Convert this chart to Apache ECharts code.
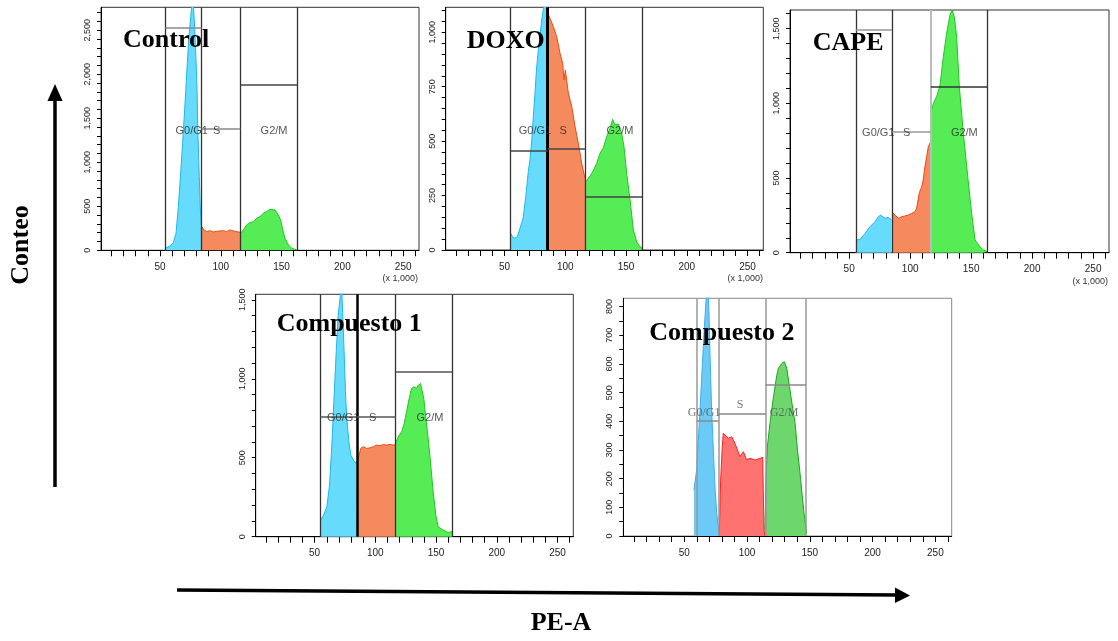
<!DOCTYPE html>
<html>
<head>
<meta charset="utf-8">
<script src="https://cdn.jsdelivr.net/npm/echarts@6/dist/echarts.min.js"></script>
<style>
html, body { margin: 0; padding: 0; background: #fff; }
#container { width: 1118px; height: 641px; }
</style>
</head>
<body>
<div id="container"></div>
<script>
// PE-A axis, in thousands
var xTicks = [10, 20, 30, 40, 50, 60, 70, 80, 90, 100, 110, 120, 130, 140, 150, 160, 170, 180, 190, 200, 210, 220, 230, 240, 250, 260];
var xLabels = [50, 100, 150, 200, 250];
var phaseNames = ['G0/G1', 'S', 'G2/M'];

// Control
var ctrlYLabels = [0, 500, 1000, 1500, 2000, 2500];
var ctrlG1 = [[54.4, 23], [58.2, 49], [61.0, 87], [63.2, 193], [65.1, 496], [67.0, 875], [68.6, 1216], [70.3, 1595], [72.0, 2011], [73.6, 2390], [75.3, 2655], [76.9, 2900], [78.2, 2618], [79.3, 2277], [80.4, 1860], [81.2, 1330], [82.3, 837], [83.1, 496], [84.3, 231]];
var ctrlS = [[84.4, 269], [86.2, 231], [88.4, 212], [91.1, 223], [93.8, 208], [96.7, 216], [99.4, 220], [102.1, 223], [104.8, 212], [107.6, 231], [110.3, 220], [113.1, 212], [115.8, 205]];
var ctrlG2 = [[116.3, 193], [118.5, 231], [121.3, 288], [124.0, 314], [126.8, 326], [129.6, 364], [132.3, 383], [135.0, 420], [137.7, 439], [140.4, 466], [141.8, 477], [144.6, 458], [147.3, 402], [149.2, 345], [151.0, 231], [152.8, 136], [155.6, 61], [158.3, 23], [162.4, 4]];
var ctrlGates = [54.4, 84.3, 116.0, 162.9];
var ctrlGateLevels = [2528, 1378, 1877];
var ctrlLabelPos = [[76.1, 1358], [96.6, 1358], [143.8, 1358]];

// DOXO
var doxoYLabels = [0, 250, 500, 750, 1000];
var doxoG1 = [[55.3, 75], [56.5, 60], [58.6, 54], [60.5, 62], [62.7, 100], [65.4, 150], [67.6, 255], [69.5, 360], [71.0, 420], [72.3, 500], [73.6, 610], [75.0, 720], [76.4, 840], [77.8, 920], [79.1, 980], [80.5, 1055], [82.0, 1110], [82.8, 1200], [85.5, 1200]];
var doxoS = [[85.6, 1090], [87.4, 1064], [90.1, 1026], [92.9, 980], [95.6, 904], [97.8, 858], [98.9, 781], [100.0, 827], [102.5, 720], [105.3, 658], [108.0, 567], [110.7, 490], [113.5, 398], [116.2, 329]];
var doxoG2 = [[117.1, 314], [118.9, 330], [120.3, 340], [121.7, 352], [123.5, 370], [125.8, 398], [128.5, 444], [131.3, 470], [134.1, 521], [136.8, 559], [139.0, 600], [140.9, 574], [143.6, 579], [146.4, 536], [148.3, 475], [150.5, 352], [153.3, 230], [156.0, 92], [158.8, 38], [161.5, 15], [163.4, 8]];
var doxoGates = [55.0, 85.5, 116.8, 163.4];
var doxoGateLevels = [456, 467, 243];
var doxoLabelPos = [[75.0, 548], [98.3, 548], [145.0, 548]];

// CAPE
var capeYLabels = [0, 500, 1000, 1500];
var capeG1 = [[55.5, 85], [58.9, 89], [63.0, 129], [67.1, 174], [71.2, 208], [73.9, 241], [75.8, 252], [79.4, 230], [82.0, 237], [84.8, 219]];
var capeS = [[85.3, 272], [87.6, 252], [90.3, 230], [93.0, 241], [95.8, 246], [98.5, 252], [101.2, 263], [103.9, 275], [105.3, 297], [107.5, 402], [109.5, 442], [110.7, 487], [112.1, 576], [113.5, 643], [114.9, 710], [116.8, 743]];
var capeG2 = [[117.1, 933], [119.0, 1000], [121.7, 1045], [124.5, 1123], [127.2, 1312], [129.9, 1469], [132.6, 1591], [134.3, 1625], [136.2, 1580], [138.1, 1446], [140.3, 1112], [143.6, 799], [147.2, 509], [150.4, 263], [153.2, 85], [157.2, 40], [160.0, 18], [163.3, 7]];
var capeGates = [55.4, 85.2, 116.9, 163.4];
var capeGateLevels = [1496, 808, 1112];
var capeLabelPos = [[73.9, 803], [97.2, 803], [144.4, 803]];

// Compuesto 1
var c1YLabels = [0, 500, 1000, 1500];
var c1G1 = [[55.0, 105], [57.4, 137], [60.1, 190], [62.3, 327], [64.2, 580], [66.1, 897], [67.8, 1171], [69.4, 1403], [71.1, 1519], [72.2, 1600], [73.3, 1382], [74.3, 1171], [75.4, 918], [76.5, 749], [78.2, 601], [79.8, 517], [82.0, 485], [84.2, 464], [84.9, 475]];
var c1S = [[85.0, 475], [86.1, 500], [88.0, 559], [90.2, 570], [92.9, 559], [95.7, 563], [98.4, 570], [101.1, 580], [103.9, 576], [106.6, 584], [109.3, 580], [112.0, 584], [114.8, 580], [116.6, 584]];
var c1G2 = [[117.0, 601], [119.7, 643], [121.6, 665], [123.5, 707], [125.7, 791], [127.9, 876], [129.8, 939], [131.7, 949], [133.9, 939], [135.5, 960], [137.2, 970], [138.5, 981], [139.9, 876], [141.6, 749], [143.5, 622], [145.4, 475], [147.6, 285], [149.8, 137], [151.7, 63], [155.8, 42], [159.9, 27], [163.1, 32]];
var c1Gates = [54.7, 84.9, 116.8, 163.4];
var c1GateLevels = [759, 759, 1044];
var c1LabelPos = [[73.6, 753], [97.8, 753], [145.0, 753]];

// Compuesto 2
var c2YLabels = [0, 100, 200, 300, 400, 500, 600, 700, 800];
var c2G1 = [[57.7, 160], [59.9, 230], [61.2, 330], [62.6, 440], [64.0, 560], [65.2, 660], [66.5, 760], [67.5, 830], [68.7, 860], [69.6, 800], [70.5, 640], [71.9, 430], [73.2, 300], [74.5, 172], [75.9, 79], [77.9, 10]];
var c2S = [[77.9, 0], [79.0, 195], [80.3, 311], [81.1, 358], [82.5, 364], [85.1, 341], [87.8, 346], [90.4, 323], [92.4, 300], [94.4, 277], [97.1, 294], [99.8, 265], [102.4, 271], [106.4, 265], [110.4, 271], [112.5, 274], [113.0, 150], [113.6, 21], [114.2, 0]];
var c2G2 = [[114.3, 21], [115.1, 195], [116.2, 311], [118.3, 393], [120.9, 480], [123.7, 560], [125.0, 585], [127.7, 602], [129.8, 608], [131.7, 585], [133.8, 521], [135.9, 460], [138.3, 393], [140.2, 300], [142.2, 220], [144.0, 140], [145.4, 80], [147.5, 10]];
var c2Gates = [60.0, 77.2, 115.0, 146.9];
var c2GateLevels = [401, 426, 527];
var c2LabelPos = [[65.8, 428], [94.4, 459], [129.5, 428]];

function steps(a, b, s) {
  var out = [];
  for (var v = a; v <= b; v += s) out.push(v);
  return out;
}

var warm = { g1: ['#66dbfb', '#1fb6ee'], s: ['#f48a5d', '#ef4a12'], g2: ['#55ec55', '#1fc81f'] };
var soft = { g1: ['#6ccaf6', '#3aaeee'], s: ['#ff7272', '#ff2323'], g2: ['#6dd66d', '#1aa81a'] };

var panels = [
  { title: 'Control', grid: { left: 101, top: 7.3, width: 318, height: 243 }, yMax: 2760, yStep: 100, yLabels: ctrlYLabels,
    g1: ctrlG1, s: ctrlS, g2: ctrlG2, gates: ctrlGates, levels: ctrlGateLevels, labelPos: ctrlLabelPos, colors: warm,
    vStyle: [['#333', 1.3], ['#333', 1.3], ['#333', 1.3], ['#333', 1.3]], hColor: ['#888', '#888', '#444'], border: '#333',
    titleXY: [123, 27], units: [418, 279], labelFont: 'sans' },
  { title: 'DOXO', grid: { left: 445.7, top: 7.3, width: 317.6, height: 242.7 }, yMax: 1115, yStep: 50, yLabels: doxoYLabels,
    g1: doxoG1, s: doxoS, g2: doxoG2, gates: doxoGates, levels: doxoGateLevels, labelPos: doxoLabelPos, colors: warm,
    vStyle: [['#333', 1.3], ['#000', 3], ['#333', 1.3], ['#333', 1.3]], hColor: ['#444', '#444', '#444'], border: '#333',
    titleXY: [466.7, 28], units: [763, 279], labelFont: 'sans' },
  { title: 'CAPE', grid: { left: 790, top: 10, width: 319, height: 242.7 }, yMax: 1625, yStep: 100, yLabels: capeYLabels,
    g1: capeG1, s: capeS, g2: capeG2, gates: capeGates, levels: capeGateLevels, labelPos: capeLabelPos, colors: warm,
    vStyle: [['#333', 1.3], ['#333', 1.3], ['#bbb', 2], ['#333', 1.3]], hColor: ['#999', '#999', '#333'], border: '#333',
    titleXY: [812.7, 30], units: [1108, 282], labelFont: 'sans' },
  { title: 'Compuesto 1', grid: { left: 255.7, top: 294.3, width: 317.6, height: 242.4 }, yMax: 1535, yStep: 100, yLabels: c1YLabels,
    g1: c1G1, s: c1S, g2: c1G2, gates: c1Gates, levels: c1GateLevels, labelPos: c1LabelPos, colors: warm,
    vStyle: [['#333', 1.3], ['#000', 2.5], ['#333', 1.3], ['#333', 1.3]], hColor: ['#555', '#555', '#555'], border: '#333',
    titleXY: [276.7, 311], units: null, labelFont: 'sans' },
  { title: 'Compuesto 2', grid: { left: 623.3, top: 298.3, width: 328.4, height: 237.7 }, yMax: 829, yStep: 50, yLabels: c2YLabels,
    g1: c2G1, s: c2S, g2: c2G2, gates: c2Gates, levels: c2GateLevels, labelPos: c2LabelPos, colors: soft,
    vStyle: [['#999', 1.5], ['#999', 1.5], ['#999', 1.5], ['#999', 1.5]], hColor: ['#888', '#888', '#888'], border: '#888',
    titleXY: [649.3, 320], units: null, labelFont: 'serif' }
];

var grids = [], xAxes = [], yAxes = [], series = [], graphics = [];

function area(idx, data, c) {
  return {
    type: 'line', xAxisIndex: idx, yAxisIndex: idx, data: data, symbol: 'none', z: 2,
    lineStyle: { color: c[1], width: 1 }, areaStyle: { color: c[0], opacity: 1 }
  };
}

panels.forEach(function (p, i) {
  grids.push({ left: p.grid.left, top: p.grid.top, width: p.grid.width, height: p.grid.height,
    show: true, borderColor: p.border, borderWidth: 1, backgroundColor: 'transparent' });
  xAxes.push({
    type: 'value', gridIndex: i, min: 1.5, max: 263, splitLine: { show: false },
    axisLine: { lineStyle: { color: '#000', width: 1 } },
    axisTick: { length: 6, customValues: xTicks, lineStyle: { color: '#000' } },
    axisLabel: { customValues: xLabels, fontSize: 10, color: '#222', margin: 12, fontFamily: 'Liberation Sans' }
  });
  yAxes.push({
    type: 'value', gridIndex: i, min: 0, max: p.yMax, splitLine: { show: false },
    axisLine: { show: true, lineStyle: { color: '#000', width: 1 } },
    axisTick: { show: true, length: 4, customValues: steps(0, p.yMax, p.yStep), lineStyle: { color: '#000' } },
    axisLabel: { customValues: p.yLabels, rotate: 90, fontSize: 9, color: '#222', margin: 9, fontFamily: 'Liberation Sans',
      formatter: function (v) { return v.toLocaleString('en-US'); } }
  });
  series.push(area(i, p.g1, p.colors.g1));
  series.push(area(i, p.s, p.colors.s));
  series.push(area(i, p.g2, p.colors.g2));

  var lines = [];
  p.gates.forEach(function (g, k) {
    lines.push({ xAxis: g, lineStyle: { color: p.vStyle[k][0], width: p.vStyle[k][1], type: 'solid' } });
  });
  p.levels.forEach(function (lv, k) {
    lines.push([{ coord: [p.gates[k], lv], lineStyle: { color: p.hColor[k], width: 1.5, type: 'solid' } },
                { coord: [p.gates[k + 1], lv] }]);
  });
  series.push({
    type: 'scatter', xAxisIndex: i, yAxisIndex: i, z: 5, symbolSize: 0, silent: true,
    data: p.labelPos.map(function (pos, k) { return [pos[0], pos[1], phaseNames[k]]; }),
    label: {
      show: true, position: 'inside', formatter: function (q) { return q.data[2]; },
      fontSize: p.labelFont === 'serif' ? 12 : 11,
      fontFamily: p.labelFont === 'serif' ? 'Liberation Serif' : 'Liberation Sans',
      color: p.labelFont === 'serif' ? '#555' : '#2a2a2a'
    },
    markLine: { silent: true, symbol: 'none', label: { show: false }, animation: false, data: lines }
  });

  graphics.push({ type: 'text', x: p.titleXY[0], y: p.titleXY[1], z: 100,
    style: { text: p.title, font: 'bold 26px "Liberation Serif"', fill: '#000', align: 'left', verticalAlign: 'top' } });
  if (p.units) {
    graphics.push({ type: 'text', x: p.units[0], y: p.units[1], z: 100,
      style: { text: '(x 1,000)', font: '9px "Liberation Sans"', fill: '#333', align: 'right', verticalAlign: 'middle' } });
  }
});

// axis captions and arrows
graphics.push({ type: 'text', x: 21, y: 245, rotation: Math.PI / 2, z: 100,
  style: { text: 'Conteo', font: 'bold 26px "Liberation Serif"', fill: '#000', align: 'center', verticalAlign: 'middle' } });
graphics.push({ type: 'text', x: 561, y: 623, z: 100,
  style: { text: 'PE-A', font: 'bold 26px "Liberation Serif"', fill: '#000', align: 'center', verticalAlign: 'middle' } });
graphics.push({ type: 'line', z: 100, shape: { x1: 55, y1: 487, x2: 55, y2: 98 }, style: { stroke: '#000', lineWidth: 3.5 } });
graphics.push({ type: 'polygon', z: 100, shape: { points: [[47.5, 101], [55, 84], [62.5, 101]] }, style: { fill: '#000' } });
graphics.push({ type: 'line', z: 100, shape: { x1: 177, y1: 590, x2: 897, y2: 595 }, style: { stroke: '#000', lineWidth: 3.5 } });
graphics.push({ type: 'polygon', z: 100, shape: { points: [[895, 587.5], [910, 595.5], [895, 603]] }, style: { fill: '#000' } });

var myChart = echarts.init(document.getElementById('container'), null, { renderer: 'canvas' });
myChart.setOption({
  animation: false,
  backgroundColor: '#fff',
  grid: grids,
  xAxis: xAxes,
  yAxis: yAxes,
  series: series,
  graphic: graphics
});
</script>
</body>
</html>
